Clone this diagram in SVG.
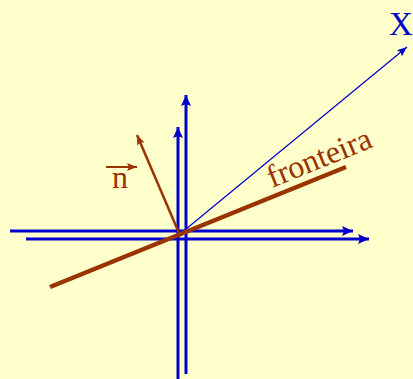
<svg xmlns="http://www.w3.org/2000/svg" width="413" height="379" viewBox="0 0 413 379">
<defs>
<style>
.ax{stroke:#0000CC;stroke-width:3;fill:none}
.thin{stroke:#0000CC;stroke-width:1.2;fill:none}
.br{stroke:#993300;fill:none}
.lbl{font-family:"Liberation Serif","Times New Roman",serif}
</style>
<marker id="ab" markerUnits="userSpaceOnUse" markerWidth="12" markerHeight="10" viewBox="0 0 12 10" refX="11" refY="5" orient="auto"><path d="M0,0 L11,5 L0,10 L2,5 Z" fill="#0000CC"/></marker>
<marker id="abt" markerUnits="userSpaceOnUse" markerWidth="10" markerHeight="8" viewBox="0 0 10 8" refX="10" refY="4" orient="auto"><path d="M0,0 L10,4 L0,8 L2,4 Z" fill="#0000CC"/></marker>
<marker id="abr" markerUnits="userSpaceOnUse" markerWidth="10" markerHeight="8" viewBox="0 0 10 8" refX="10" refY="4" orient="auto"><path d="M0,0 L10,4 L0,8 L2,4 Z" fill="#993300"/></marker>
</defs>
<rect width="413" height="379" fill="#FFFFCC"/>
<g id="connectors">
<line class="ax" x1="10" y1="231" x2="353" y2="231" marker-end="url(#ab)"/>
<line class="ax" x1="26" y1="239" x2="369" y2="239" marker-end="url(#ab)"/>
<line class="ax" x1="178" y1="379" x2="178" y2="127" marker-end="url(#ab)"/>
<line class="ax" x1="186" y1="374" x2="186" y2="95" marker-end="url(#ab)"/>
<line class="thin" x1="180" y1="234" x2="407" y2="47" marker-end="url(#abt)"/>
<line class="br" stroke-width="2.5" x1="179" y1="233" x2="137" y2="135" marker-end="url(#abr)"/>
</g>
<g id="fronteira">
<line class="br" stroke-width="4.5" x1="50" y1="287" x2="346" y2="167"/>
<text class="lbl" x="272" y="188" font-size="32" fill="#993300" transform="rotate(-22 272 188)">fronteira</text>
</g>
<g id="normal">
<line class="br" stroke-width="2" x1="106" y1="167" x2="137" y2="167" marker-end="url(#abr)"/>
<text class="lbl" x="112" y="188" font-size="32" fill="#993300">n</text>
</g>
<g id="X">
<text class="lbl" x="389" y="35" font-size="33" fill="#0000CC">X</text>
</g>
</svg>
